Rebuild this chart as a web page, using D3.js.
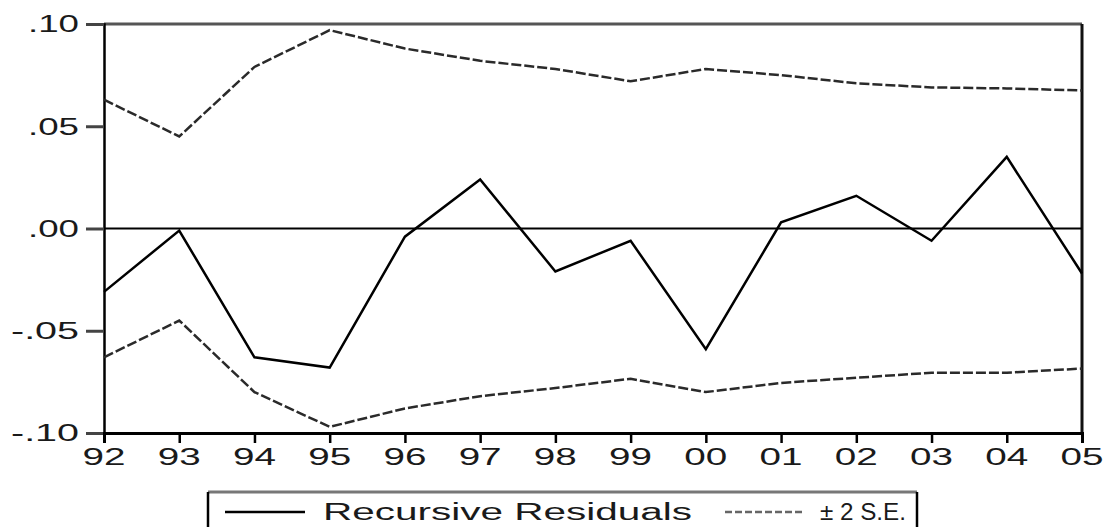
<!DOCTYPE html>
<html>
<head>
<meta charset="utf-8">
<script src="https://cdn.jsdelivr.net/npm/d3@7"></script>
<style>
  body { margin: 0; background: white; }
  svg { display: block; font-family: 'Liberation Sans', Arial, sans-serif; }
</style>
</head>
<body>
<svg width="1107" height="527"></svg>
<script>
// Data
const years = ['92', '93', '94', '95', '96', '97', '98', '99', '00', '01', '02', '03', '04', '05'];
const residuals = [-0.031, -0.001, -0.063, -0.068, -0.004, 0.024, -0.021, -0.006, -0.059, 0.003, 0.016, -0.006, 0.035, -0.022];
const upper_se = [0.063, 0.045, 0.079, 0.097, 0.088, 0.082, 0.078, 0.072, 0.078, 0.075, 0.071, 0.069, 0.0685, 0.0675];
const lower_se = [-0.063, -0.045, -0.080, -0.097, -0.088, -0.082, -0.078, -0.0735, -0.080, -0.0755, -0.073, -0.0705, -0.0705, -0.0685];
const y_ticks = [0.10, 0.05, 0.00, -0.05, -0.10];
const y_tick_labels = ['.10', '.05', '.00', '-.05', '-.10'];

// Constants
const svg = d3.select('svg');
const width = +svg.attr('width');
const height = +svg.attr('height');
const margin = { top: 24, right: 25, bottom: 94, left: 104 };
const inner_width = width - margin.left - margin.right;
const inner_height = height - margin.top - margin.bottom;
const font_size = '23px';
const text_colour = '#1a1a1a';

const xScale = d3.scaleLinear()
    .domain([0, years.length - 1])
    .range([0, inner_width]);

const yScale = d3.scaleLinear()
    .domain([-0.1, 0.1])
    .range([inner_height, 0]);

const chart = svg.append('g')
    .attr('transform', `translate(${margin.left}, ${margin.top})`);

// Frame (top + right)
chart.append('line')
    .attr('x1', 0).attr('x2', inner_width)
    .attr('y1', yScale(0.1)).attr('y2', yScale(0.1))
    .attr('stroke', '#555').attr('stroke-width', 3);
chart.append('line')
    .attr('x1', inner_width).attr('x2', inner_width)
    .attr('y1', yScale(0.1)).attr('y2', yScale(-0.1))
    .attr('stroke', '#111').attr('stroke-width', 3);

// Zero line
chart.append('line')
    .attr('x1', 0).attr('x2', inner_width)
    .attr('y1', yScale(0)).attr('y2', yScale(0))
    .attr('stroke', 'black').attr('stroke-width', 2);

// Left axis
const yAxis = chart.append('g')
    .call(d3.axisLeft(yScale).tickValues(y_ticks).tickSize(18).tickFormat(''));
yAxis.select('.domain').attr('stroke', 'black').attr('stroke-width', 2.5);
yAxis.selectAll('.tick line').attr('stroke', '#444').attr('stroke-width', 3);

chart.selectAll('.ylabel')
    .data(y_ticks)
    .enter().append('text')
    .attr('class', 'ylabel')
    .attr('x', -25)
    .attr('y', d => yScale(d))
    .attr('dy', '.36em')
    .attr('text-anchor', 'end')
    .attr('font-size', font_size)
    .attr('fill', text_colour)
    .attr('textLength', (d, i) => y_tick_labels[i].length * 17)
    .attr('lengthAdjust', 'spacingAndGlyphs')
    .text((d, i) => y_tick_labels[i]);

// Bottom axis
const xAxis = chart.append('g')
    .attr('transform', `translate(0, ${inner_height})`)
    .call(d3.axisBottom(xScale).tickValues(d3.range(years.length)).tickSize(10).tickFormat(''));
xAxis.select('.domain').attr('stroke', 'black').attr('stroke-width', 3);
xAxis.selectAll('.tick line').attr('stroke', 'black').attr('stroke-width', 2.5);

chart.selectAll('.xlabel')
    .data(years)
    .enter().append('text')
    .attr('class', 'xlabel')
    .attr('x', (d, i) => xScale(i))
    .attr('y', inner_height + 32)
    .attr('text-anchor', 'middle')
    .attr('font-size', font_size)
    .attr('fill', text_colour)
    .attr('textLength', 43)
    .attr('lengthAdjust', 'spacingAndGlyphs')
    .text(d => d);

// Lines
const line = d3.line()
    .x((d, i) => xScale(i))
    .y(d => yScale(d));

[upper_se, lower_se].forEach(band => {
    chart.append('path')
        .datum(band)
        .attr('fill', 'none')
        .attr('stroke', '#2a2a2a')
        .attr('stroke-width', 2.5)
        .attr('stroke-dasharray', '10,3')
        .attr('d', line);
});

chart.append('path')
    .datum(residuals)
    .attr('fill', 'none')
    .attr('stroke', 'black')
    .attr('stroke-width', 2.5)
    .attr('d', line);

// Legend
const legend = svg.append('g')
    .attr('transform', 'translate(208, 492)');
legend.append('line')
    .attr('x1', 0).attr('x2', 709).attr('y1', 0).attr('y2', 0)
    .attr('stroke', '#777').attr('stroke-width', 3);
legend.append('line')
    .attr('x1', 0).attr('x2', 0).attr('y1', 0).attr('y2', 40)
    .attr('stroke', 'black').attr('stroke-width', 2.5);
legend.append('line')
    .attr('x1', 709).attr('x2', 709).attr('y1', 0).attr('y2', 40)
    .attr('stroke', 'black').attr('stroke-width', 2.5);

legend.append('line')
    .attr('x1', 17).attr('x2', 97).attr('y1', 20).attr('y2', 20)
    .attr('stroke', 'black').attr('stroke-width', 2.5);
legend.append('text')
    .attr('x', 115)
    .attr('y', 28)
    .attr('font-size', font_size)
    .attr('fill', text_colour)
    .attr('textLength', 369)
    .attr('lengthAdjust', 'spacingAndGlyphs')
    .text('Recursive Residuals');

legend.append('line')
    .attr('x1', 517).attr('x2', 597).attr('y1', 20).attr('y2', 20)
    .attr('stroke', '#666').attr('stroke-width', 2.5)
    .attr('stroke-dasharray', '7,3');
legend.append('text')
    .attr('x', 612)
    .attr('y', 28)
    .attr('font-size', font_size)
    .attr('fill', text_colour)
    .attr('textLength', 86)
    .attr('lengthAdjust', 'spacingAndGlyphs')
    .text('± 2 S.E.');
</script>
</body>
</html>
